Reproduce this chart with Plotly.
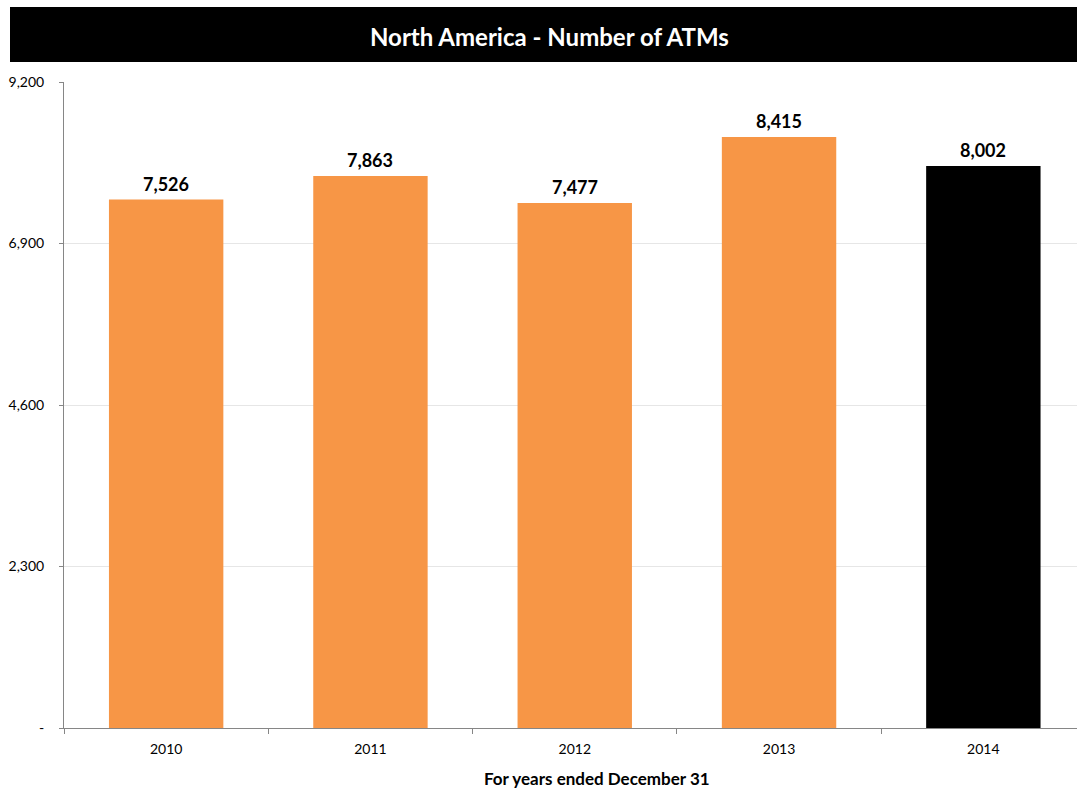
import plotly.graph_objects as go

years = ["2010", "2011", "2012", "2013", "2014"]
atms = [7526, 7863, 7477, 8415, 8002]
bar_colors = ["#F79646", "#F79646", "#F79646", "#F79646", "#000000"]
y_tickvals = [0, 2300, 4600, 6900, 9200]
y_ticktext = ["-", "2,300", "4,600", "6,900", "9,200"]

FONT = "Lato, Calibri, sans-serif"

fig = go.Figure()
fig.add_trace(go.Bar(
    x=years, y=atms,
    marker=dict(color=bar_colors, line=dict(width=0)),
    width=0.56,
    hoverinfo="skip",
))

# data labels (category index positions on the category axis)
for i, v in enumerate(atms):
    fig.add_annotation(x=i, y=v, xref="x", yref="y", text=f"<b>{v:,}</b>", showarrow=False,
                       xanchor="center", yanchor="middle", yshift=16,
                       font=dict(family=FONT, size=18, color="#000000"))

W, H = 1077, 788
L, R, T, B = 64, 0, 82, 60
pw = W - L - R
ph = H - T - B

def px_x(p):
    return (p - L) / pw

def px_y(p):
    return (H - B - p) / ph

fig.add_shape(type="rect", xref="paper", yref="paper",
              x0=px_x(10), x1=px_x(1090), y0=px_y(62), y1=px_y(7),
              fillcolor="#000000", line=dict(width=0), layer="above")
fig.add_annotation(text="<b>North America - Number of ATMs</b>", xref="paper", yref="paper",
                   x=px_x(549), y=px_y(36), showarrow=False,
                   font=dict(family=FONT, size=24, color="#FFFFFF"),
                   xanchor="center", yanchor="middle")
fig.add_annotation(text="<b>For years ended December 31</b>", xref="paper", yref="paper",
                   x=px_x(597), y=px_y(778), showarrow=False,
                   font=dict(family=FONT, size=17, color="#000000"),
                   xanchor="center", yanchor="middle")

fig.update_layout(
    width=W, height=H,
    margin=dict(l=L, r=R, t=T, b=B, pad=0),
    paper_bgcolor="#FFFFFF", plot_bgcolor="#FFFFFF",
    showlegend=False,
    font=dict(family=FONT, size=14, color="#000000"),
)
fig.update_xaxes(
    type="category",
    range=[-0.5, -0.5 + pw / 204.3],
    showline=True, linecolor="#868686", linewidth=1,
    ticks="outside", tickson="boundaries", ticklen=5, tickcolor="#868686",
    ticklabelstandoff=8,
    showgrid=False, zeroline=False,
    tickfont=dict(family=FONT, size=14, color="#000000"),
)
fig.update_yaxes(
    range=[0, 9200],
    tickvals=y_tickvals, ticktext=y_ticktext,
    showline=True, linecolor="#868686", linewidth=1,
    ticks="outside", ticklen=4, tickcolor="#868686",
    ticklabelstandoff=12,
    showgrid=True, gridcolor="#E6E6E6", gridwidth=1,
    zeroline=False,
    tickfont=dict(family=FONT, size=14, color="#000000"),
)

fig.write_html("out.html")
